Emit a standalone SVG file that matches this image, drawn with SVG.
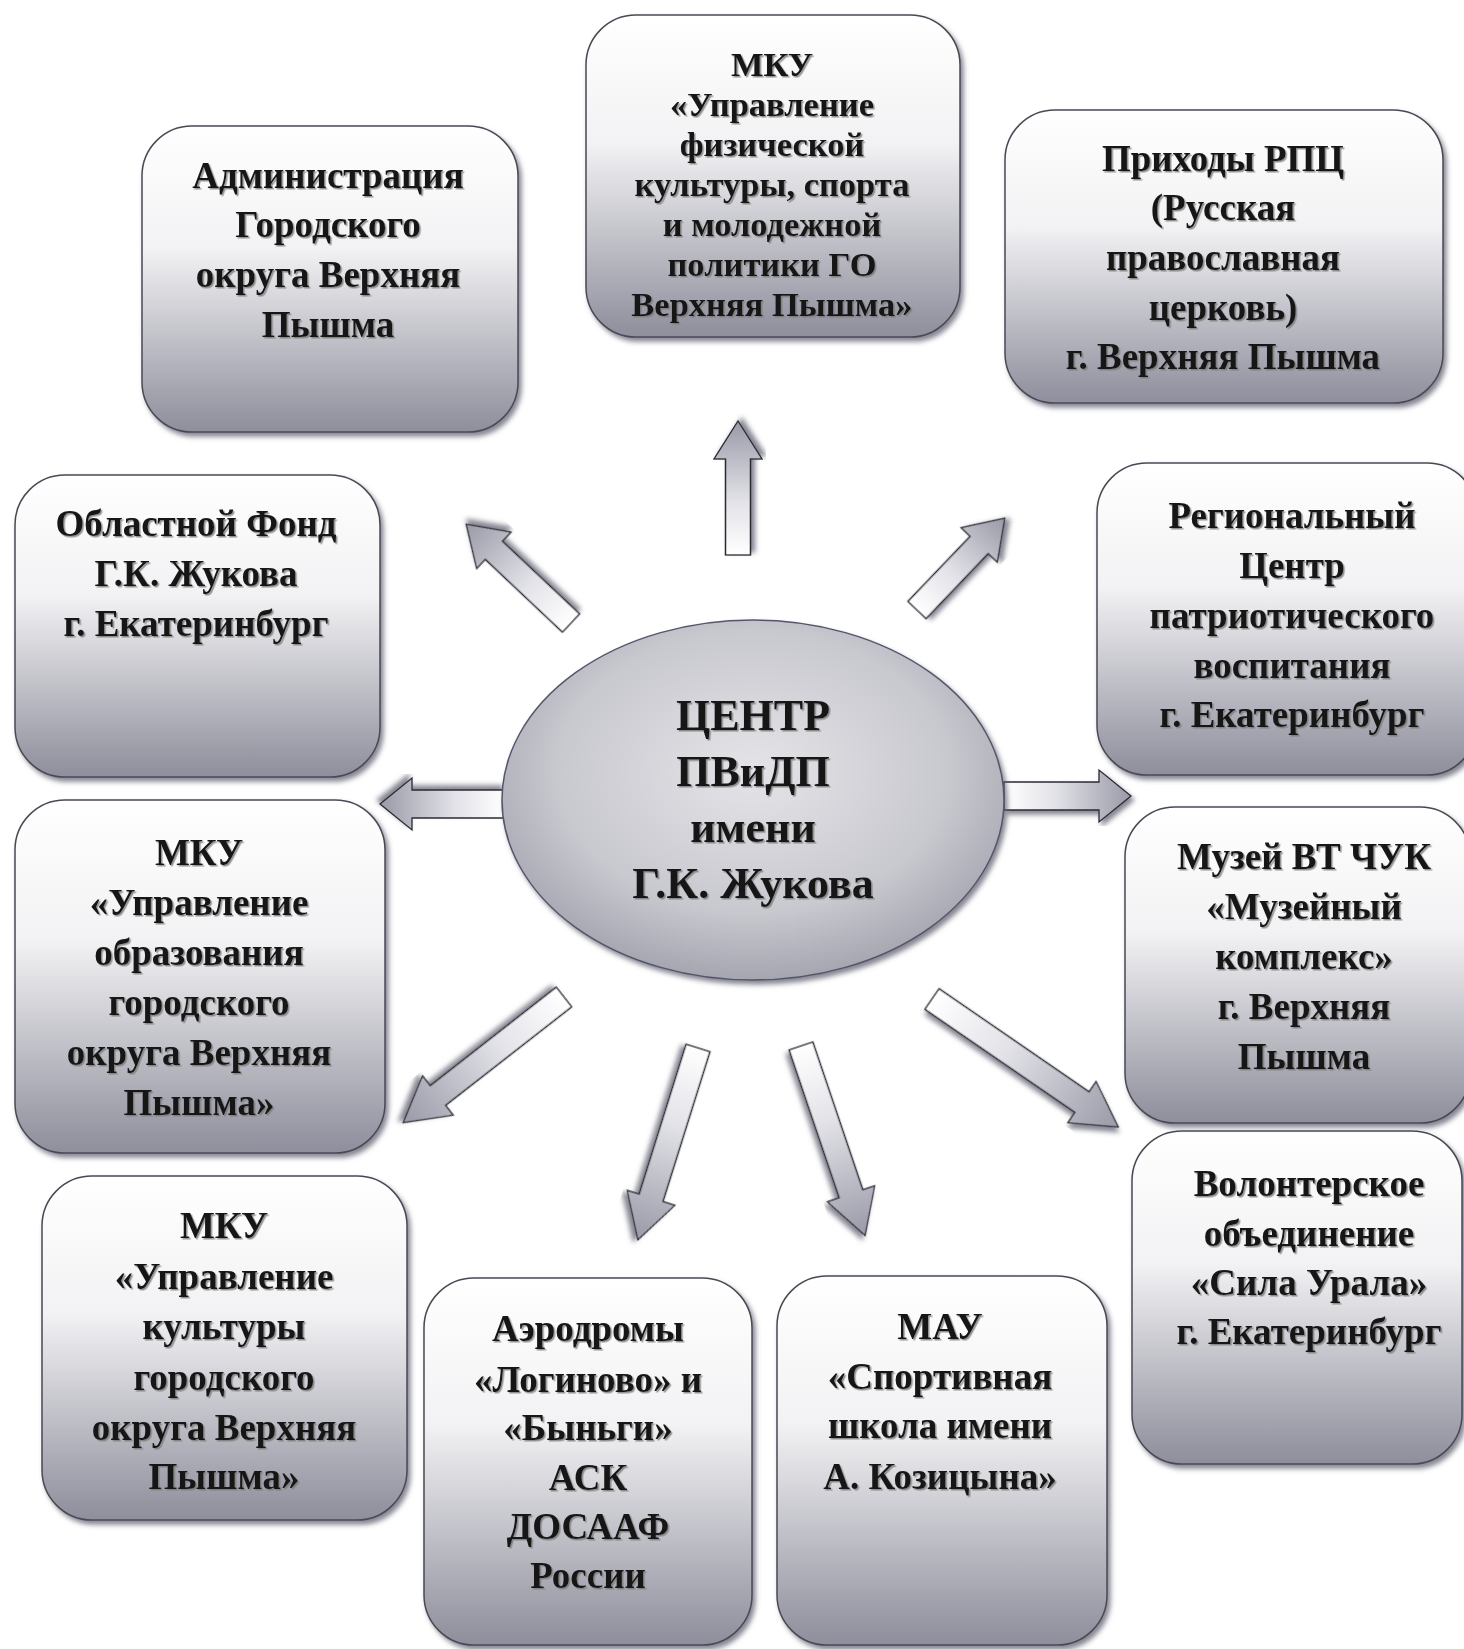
<svg xmlns="http://www.w3.org/2000/svg" width="1464" height="1649" viewBox="0 0 1464 1649">
<defs>
<linearGradient id="boxg" x1="0" y1="0" x2="0" y2="1">
<stop offset="0" stop-color="#ffffff"/>
<stop offset="0.4" stop-color="#f2f2f4"/>
<stop offset="1" stop-color="#8e8e9c"/>
</linearGradient>
<radialGradient id="ellg" cx="0.5" cy="0.42" r="0.6">
<stop offset="0" stop-color="#e4e4e8"/>
<stop offset="0.65" stop-color="#c8c8cf"/>
<stop offset="1" stop-color="#a2a2ae"/>
</radialGradient>
<linearGradient id="arrg" x1="0" y1="0" x2="1" y2="0">
<stop offset="0" stop-color="#ffffff"/>
<stop offset="0.4" stop-color="#e2e2e8"/>
<stop offset="1" stop-color="#9a9aa8"/>
</linearGradient>
<filter id="sh" x="-5%" y="-5%" width="112%" height="112%">
<feDropShadow dx="3" dy="4" stdDeviation="2.5" flood-color="#555566" flood-opacity="0.7"/>
</filter>
<filter id="tsh" x="-5%" y="-20%" width="110%" height="140%">
<feDropShadow dx="1.5" dy="1.5" stdDeviation="0.6" flood-color="#777" flood-opacity="0.8"/>
</filter>
</defs>
<style>
.box{fill:url(#boxg);stroke:#4a4a55;stroke-width:1.5;filter:url(#sh)}
.ell{fill:url(#ellg);stroke:#55556a;stroke-width:1.5;filter:url(#sh)}
.arr{fill:url(#arrg);stroke:#2a2a33;stroke-width:1.3;stroke-linejoin:miter;filter:url(#sh)}
text{font-family:"Liberation Serif","Times New Roman",serif;font-weight:bold;fill:#141414;text-anchor:middle;filter:url(#tsh)}
.t35{font-size:37px}
.t32{font-size:34.5px}
.t42{font-size:44px}
</style>
<rect width="1464" height="1649" fill="#ffffff"/>

<g id="connectors">
<path class="arr" transform="translate(738,555) rotate(-90)" d="M0,-12.5 L96,-12.5 L96,-24 L134,0 L96,24 L96,12.5 L0,12.5 Z"/>
<path class="arr" transform="translate(571,623) rotate(-136.7)" d="M0,-12.5 L106,-12.5 L106,-25 L144,0 L106,25 L106,12.5 L0,12.5 Z"/>
<path class="arr" transform="translate(917,610) rotate(-46.3)" d="M0,-12.5 L90,-12.5 L90,-25 L127,0 L90,25 L90,12.5 L0,12.5 Z"/>
<path class="arr" transform="translate(505,804) rotate(180)" d="M0,-14 L93,-14 L93,-26 L125,0 L93,26 L93,14 L0,14 Z"/>
<path class="arr" transform="translate(1004,796)" d="M0,-14 L95,-14 L95,-26 L127,0 L95,26 L95,14 L0,14 Z"/>
<path class="arr" transform="translate(564,997) rotate(142)" d="M0,-12.5 L160,-12.5 L160,-25 L204,0 L160,25 L160,12.5 L0,12.5 Z"/>
<path class="arr" transform="translate(698,1048) rotate(107.4)" d="M0,-12.5 L157,-12.5 L157,-25 L201,0 L157,25 L157,12.5 L0,12.5 Z"/>
<path class="arr" transform="translate(801,1046) rotate(71.3)" d="M0,-12.5 L156,-12.5 L156,-25 L200,0 L156,25 L156,12.5 L0,12.5 Z"/>
<path class="arr" transform="translate(932,999) rotate(34.5)" d="M0,-12.5 L182,-12.5 L182,-25 L226,0 L182,25 L182,12.5 L0,12.5 Z"/>
</g>

<g id="center">
<ellipse class="ell" cx="753" cy="800" rx="251" ry="180"/>
<text class="t42" x="753" y="730">ЦЕНТР</text>
<text class="t42" x="753" y="786">ПВиДП</text>
<text class="t42" x="753" y="842">имени</text>
<text class="t42" x="753" y="898">Г.К. Жукова</text>
</g>

<g id="admin">
<rect class="box" x="142" y="126" width="376" height="306" rx="50"/>
<text class="t35" x="328" y="188">Администрация</text>
<text class="t35" x="328" y="237">Городского</text>
<text class="t35" x="328" y="287">округа Верхняя</text>
<text class="t35" x="328" y="337">Пышма</text>
</g>

<g id="sport-dept">
<rect class="box" x="586" y="15" width="374" height="322" rx="50"/>
<text class="t32" x="772" y="76">МКУ</text>
<text class="t32" x="772" y="116">«Управление</text>
<text class="t32" x="772" y="156">физической</text>
<text class="t32" x="772" y="196">культуры, спорта</text>
<text class="t32" x="772" y="236">и молодежной</text>
<text class="t32" x="772" y="276">политики ГО</text>
<text class="t32" x="772" y="316">Верхняя Пышма»</text>
</g>

<g id="church">
<rect class="box" x="1005" y="110" width="438" height="293" rx="50"/>
<text class="t35" x="1223" y="171">Приходы РПЦ</text>
<text class="t35" x="1223" y="220">(Русская</text>
<text class="t35" x="1223" y="270">православная</text>
<text class="t35" x="1223" y="320">церковь)</text>
<text class="t35" x="1223" y="369">г. Верхняя Пышма</text>
</g>

<g id="zhukov-fund">
<rect class="box" x="15" y="475" width="365" height="302" rx="50"/>
<text class="t35" x="196" y="536">Областной Фонд</text>
<text class="t35" x="196" y="586">Г.К. Жукова</text>
<text class="t35" x="196" y="636">г. Екатеринбург</text>
</g>

<g id="edu-dept">
<rect class="box" x="15" y="800" width="370" height="353" rx="50"/>
<text class="t35" x="199" y="865">МКУ</text>
<text class="t35" x="199" y="915">«Управление</text>
<text class="t35" x="199" y="965">образования</text>
<text class="t35" x="199" y="1015">городского</text>
<text class="t35" x="199" y="1065">округа Верхняя</text>
<text class="t35" x="199" y="1115">Пышма»</text>
</g>

<g id="culture-dept">
<rect class="box" x="42" y="1176" width="365" height="344" rx="50"/>
<text class="t35" x="224" y="1238">МКУ</text>
<text class="t35" x="224" y="1289">«Управление</text>
<text class="t35" x="224" y="1339">культуры</text>
<text class="t35" x="224" y="1390">городского</text>
<text class="t35" x="224" y="1440">округа Верхняя</text>
<text class="t35" x="224" y="1489">Пышма»</text>
</g>

<g id="airfields">
<rect class="box" x="424" y="1278" width="328" height="367" rx="50"/>
<text class="t35" x="588" y="1341">Аэродромы</text>
<text class="t35" x="588" y="1392">«Логиново» и</text>
<text class="t35" x="588" y="1440">«Быньги»</text>
<text class="t35" x="588" y="1490">АСК</text>
<text class="t35" x="588" y="1539">ДОСААФ</text>
<text class="t35" x="588" y="1588">России</text>
</g>

<g id="sport-school">
<rect class="box" x="777" y="1276" width="330" height="369" rx="50"/>
<text class="t35" x="940" y="1339">МАУ</text>
<text class="t35" x="940" y="1389">«Спортивная</text>
<text class="t35" x="940" y="1438">школа имени</text>
<text class="t35" x="940" y="1489">А. Козицына»</text>
</g>

<g id="volunteers">
<rect class="box" x="1132" y="1131" width="330" height="333" rx="50"/>
<text class="t35" x="1309" y="1196">Волонтерское</text>
<text class="t35" x="1309" y="1246">объединение</text>
<text class="t35" x="1309" y="1295">«Сила Урала»</text>
<text class="t35" x="1309" y="1344">г. Екатеринбург</text>
</g>

<g id="museum">
<rect class="box" x="1125" y="807" width="345" height="316" rx="50"/>
<text class="t35" x="1304" y="869">Музей ВТ ЧУК</text>
<text class="t35" x="1304" y="919">«Музейный</text>
<text class="t35" x="1304" y="969">комплекс»</text>
<text class="t35" x="1304" y="1019">г. Верхняя</text>
<text class="t35" x="1304" y="1069">Пышма</text>
</g>

<g id="patriotic-center">
<rect class="box" x="1097" y="463" width="380" height="312" rx="50"/>
<text class="t35" x="1292" y="528">Региональный</text>
<text class="t35" x="1292" y="578">Центр</text>
<text class="t35" x="1292" y="628">патриотического</text>
<text class="t35" x="1292" y="678">воспитания</text>
<text class="t35" x="1292" y="727">г. Екатеринбург</text>
</g>
</svg>
